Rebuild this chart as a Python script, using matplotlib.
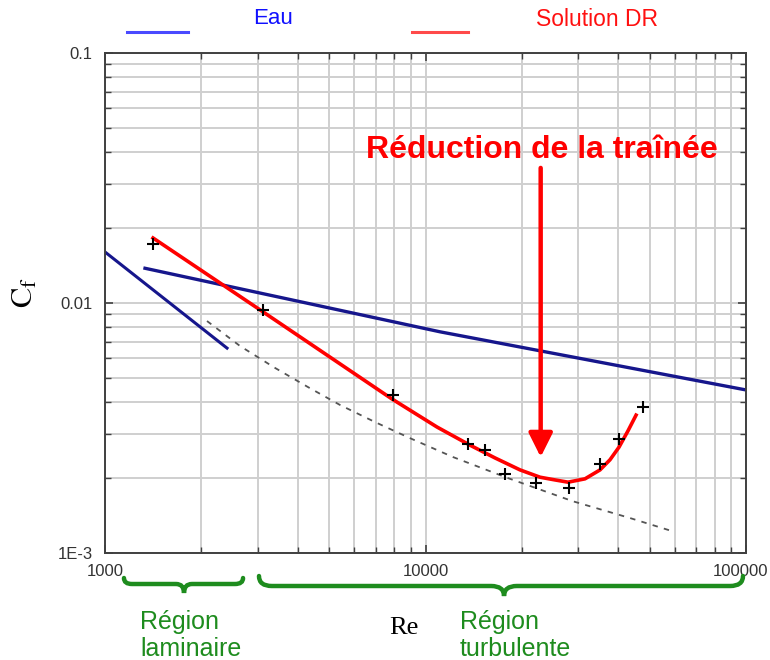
import matplotlib
matplotlib.use("Agg")
import matplotlib.pyplot as plt
import numpy as np
from matplotlib.path import Path
from matplotlib.patches import PathPatch
from matplotlib.lines import Line2D
from matplotlib.ticker import LogLocator, FixedLocator, FixedFormatter, NullFormatter
import matplotlib.transforms as mtransforms

plt.rcParams['font.family'] = ['Liberation Sans', 'DejaVu Sans']
plt.rcParams['mathtext.fontset'] = 'stix'

# Water: laminar (16/Re) and turbulent (Blasius) lines
re_laminar = [1000, 2403]
cf_laminar = [0.0160, 0.00660]
re_water = [1333, 11096, 100000]
cf_water = [0.01377, 0.00767, 0.00449]

# Maximum drag reduction asymptote (dashed)
re_mdr = [2081, 2638, 3392, 4299, 5410, 6958, 8946, 12185, 17960, 28850, 43450, 59190]
cf_mdr = [0.00847, 0.00673, 0.00550, 0.00461, 0.00391, 0.00334, 0.00288,
          0.00242, 0.00200, 0.00161, 0.00138, 0.00122]

# DR solution: fitted curve and measured points
re_dr_fit = [1412, 3118, 7863, 10865, 13767, 16480, 19720, 22765, 25360, 27840,
             31450, 35040, 37640, 40150, 42830, 45390]
cf_dr_fit = [0.0182, 0.0092, 0.00413, 0.00319, 0.00270, 0.00240, 0.00215, 0.00201,
             0.00196, 0.00192, 0.00198, 0.00215, 0.00236, 0.00265, 0.00308, 0.00356]
re_dr_pts = [1409, 3118, 7935, 13543, 15335, 17742, 22126, 28100, 35040, 40240, 47600]
cf_dr_pts = [0.01722, 0.00938, 0.00427, 0.00273, 0.00258, 0.00207, 0.00190,
             0.00182, 0.00227, 0.00287, 0.00385]

# arrow "Réduction de la traînée"
re_arrow = 22875
cf_arrow_tail = 0.0347
cf_arrow_head = 0.00242

# braces (Re ranges) for the flow regions
brace_laminar = (1146, 1764, 2696)
brace_turbulent = (3023, 17580, 97860)

green = '#1e8c1e'
navy = '#16168c'

fig = plt.figure(figsize=(7.7, 6.6), dpi=100)
ax = fig.add_axes([105/770, 1 - 553/660, 641/770, 500/660])
ax.set_xscale('log')
ax.set_yscale('log')
ax.set_xlim(1000, 100000)
ax.set_ylim(1e-3, 0.1)

ax.xaxis.set_major_locator(FixedLocator([1e3, 1e4, 1e5]))
ax.xaxis.set_major_formatter(FixedFormatter(['1000', '10000', '100000']))
ax.yaxis.set_major_locator(FixedLocator([1e-3, 1e-2, 1e-1]))
ax.yaxis.set_major_formatter(FixedFormatter(['1E-3', '0.01', '0.1']))
ax.xaxis.set_minor_locator(LogLocator(base=10, subs=np.arange(2, 10)))
ax.yaxis.set_minor_locator(LogLocator(base=10, subs=np.arange(2, 10)))
ax.xaxis.set_minor_formatter(NullFormatter())
ax.yaxis.set_minor_formatter(NullFormatter())

ax.grid(True, which='both', color='#cfcfcf', linewidth=1.4)
ax.set_axisbelow(True)
ax.tick_params(which='both', direction='in', top=True, right=True,
               color='#404040', labelsize=12, labelcolor='#333333')
ax.tick_params(which='major', length=6, width=1.2)
ax.tick_params(which='minor', length=4, width=1.0)
ax.tick_params(axis='x', pad=8)
ax.tick_params(axis='y', pad=9)
for s in ax.spines.values():
    s.set_color('#404040')
    s.set_linewidth(1.4)

# curves
ax.plot(re_laminar, cf_laminar, color=navy, lw=2.2)
ax.plot(re_water, cf_water, color=navy, lw=2.4)
ax.plot(re_mdr, cf_mdr, color='#555555', lw=1.3, ls=(0, (3, 3.5)))
ax.plot(re_dr_fit, cf_dr_fit, color='#ff0000', lw=2.6, solid_joinstyle='round')
ax.plot(re_dr_pts, cf_dr_pts, ls='none', marker='+', color='black', ms=9, mew=1.5)

# arrow and annotation
ax.annotate('', xy=(re_arrow, cf_arrow_head), xytext=(re_arrow, cf_arrow_tail),
            arrowprops=dict(arrowstyle='-|>,head_length=1.0,head_width=0.5',
                            color='#ff0000', lw=3.2, shrinkA=0, shrinkB=0,
                            mutation_scale=14.5))
ax.text(23100, 0.0409, 'Réduction de la traînée', color='#ff0000',
        fontsize=23, fontweight='bold', ha='center', va='center')

# braces below the axis
trans = mtransforms.blended_transform_factory(ax.transData, ax.transAxes)


def yfrac(py):
    return (553 - py) / 500


def draw_brace(xs, y_end, y_h, y_tip, r):
    a, c, b = np.log10(xs)
    pts = [(a, y_end), (a, y_h), (a + r, y_h), (c - r, y_h), (c, y_h), (c, y_tip),
           (c, y_h), (c + r, y_h), (b - r, y_h), (b, y_h), (b, y_end)]
    codes = [Path.MOVETO, Path.CURVE3, Path.CURVE3, Path.LINETO, Path.CURVE3, Path.CURVE3,
             Path.CURVE3, Path.CURVE3, Path.LINETO, Path.CURVE3, Path.CURVE3]
    verts = [(10 ** x, yfrac(y)) for x, y in pts]
    patch = PathPatch(Path(verts, codes), fill=False, edgecolor=green, lw=3.2,
                      transform=trans, clip_on=False, capstyle='round')
    ax.add_patch(patch)


draw_brace(brace_laminar, 578, 584, 593, 0.025)
draw_brace(brace_turbulent, 576, 586, 596, 0.04)

# keep the last x tick label inside the figure
last = ax.xaxis.get_major_ticks()[-1].label1
last.set_transform(last.get_transform() + mtransforms.ScaledTranslation(-0.06, 0, fig.dpi_scale_trans))

# region labels
def ftext(px, py, s, **kw):
    fig.text(px / 770, 1 - py / 660, s, **kw)


ftext(140, 629, 'Région', color=green, fontsize=18, va='baseline')
ftext(140, 656, 'laminaire', color=green, fontsize=18, va='baseline')
ftext(460, 629, 'Région', color=green, fontsize=18, va='baseline')
ftext(460, 656, 'turbulente', color=green, fontsize=18, va='baseline')
ftext(404, 628, 'Re', family='Liberation Serif', fontsize=19, ha='center', va='center')
ftext(25, 292, r'$\mathrm{C_f}$', fontsize=22, rotation=90, ha='center', va='center')

# legend at top
fig.add_artist(Line2D([127/770, 188/770], [1 - 32/660, 1 - 32/660], color='#4a4aff', lw=2.2))
fig.add_artist(Line2D([412/770, 468/770], [1 - 32/660, 1 - 32/660], color='#ff4a4a', lw=2.2))
ftext(273, 19, 'Eau', color='#1010ff', fontsize=16, ha='center', va='center')
ftext(597, 19, 'Solution DR', color='#ff1010', fontsize=16.5, ha='center', va='center')

fig.savefig('out.png', dpi=100)
